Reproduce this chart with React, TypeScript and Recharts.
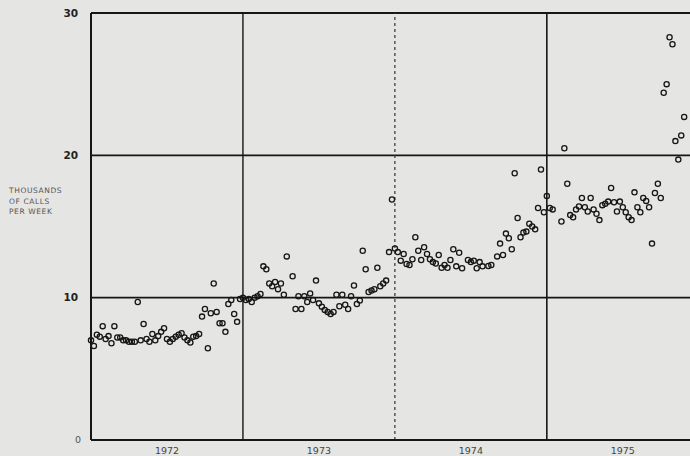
import React from 'react';
import { ReferenceLine, Scatter, ScatterChart, XAxis, YAxis } from 'recharts';

// weekly calls, thousands; null = no point visible that week
const calls1972 = [
  7.0, 6.6, 7.4, 7.26, 8.0, 7.1, 7.3, 6.8, 8.0, 7.2, 7.2, 7.0, 7.0, 6.9, 6.9, 6.9, 9.7, 7.0, 8.15, 7.1,
  6.9, 7.45, 7.0, 7.3, 7.6, 7.85, 7.1, 6.9, 7.1, 7.26, 7.4, 7.5, 7.2, 7.0, 6.85, 7.26, 7.3, 7.45, 8.67, 9.2,
  6.45, 8.9, 11.0, 9.0, 8.2, 8.2, 7.6, 9.55, 9.84, 8.85, 8.3, 9.9,
];
const calls1973 = [
  10.0, 9.84, 9.9, 9.7, 10.0, 10.1, 10.26, 12.2, 12.0, 11.0, 10.8, 11.1, 10.6, 11.0, 10.2, 12.9, null, 11.5, 9.2, 10.1,
  9.2, 10.1, 9.7, 10.3, 9.84, 11.2, 9.6, 9.37, 9.14, 9.0, 8.85, 9.0, 10.2, 9.4, 10.2, 9.5, 9.2, 10.1, 10.85, 9.55,
  9.8, 13.3, 12.0, 10.4, 10.5, 10.6, 12.1, 10.8, 11.0, 11.2, 13.2, 16.9,
];
const calls1974 = [
  13.45, 13.2, 12.6, 13.07, 12.37, 12.3, 12.7, 14.25, 13.3, 12.65, 13.54, 13.07, 12.7, 12.5, 12.4, 13.0, 12.1, 12.3, 12.1, 12.65,
  13.4, 12.2, 13.16, 12.07, null, 12.65, 12.5, 12.6, 12.07, 12.5, 12.2, null, 12.23, 12.3, null, 12.9, 13.8, 13.0, 14.5, 14.17,
  13.4, 18.74, 15.6, 14.25, 14.57, 14.64, 15.2, 15.0, 14.8, 16.3, 19.0, 16.0,
];
const calls1975 = [
  17.15, 16.3, 16.2, null, null, 15.35, 20.5, 18.0, 15.8, 15.65, 16.2, 16.4, 17.0, 16.35, 16.05, 17.0, 16.2, 15.9, 15.45, 16.5,
  16.6, 16.75, 17.7, 16.7, 16.05, 16.75, 16.35, 16.0, 15.65, 15.45, 17.4, 16.35, 16.0, 17.0, 16.8, 16.35, 13.8, 17.35, 18.0, 17.0,
  24.4, 25.0, 28.3, 27.8, 21.0, 19.7, 21.4, 22.7,
];

const years = ['1972', '1973', '1974', '1975'];
const yearTicks = [26, 78, 130, 182];
const yearBreaks = [52, 104, 156];
const yTicks = [0, 10, 20, 30];

const data = [...calls1972, ...calls1973, ...calls1974, ...calls1975]
  .map((v, i) => ({ week: i, calls: v }))
  .filter((d) => d.calls !== null);

const ink = '#161616';

const Ring = (props: any) => (
  <circle cx={props.cx} cy={props.cy} r={2.6} fill="none" stroke={ink} strokeWidth={1.3} />
);

const YTick = (props: any) => {
  const { x, y, payload } = props;
  const zero = payload.value === 0;
  return (
    <text
      x={zero ? x + 3 : x}
      y={y}
      dy="0.35em"
      textAnchor="end"
      fontSize={zero ? 9.5 : 10.5}
      fontWeight={zero ? 'normal' : 'bold'}
      fill={zero ? '#555' : '#222'}
      fontFamily="DejaVu Sans, sans-serif"
    >
      {payload.value}
    </text>
  );
};

export default function App() {
  return (
    <div style={{ position: 'absolute', left: 0, top: 0, width: 690, height: 456, background: '#e5e5e3', overflow: 'hidden' }}>
      <div
        style={{
          position: 'absolute',
          left: 9,
          top: 186,
          fontFamily: 'DejaVu Sans, sans-serif',
          fontSize: 7.5,
          lineHeight: '10.5px',
          letterSpacing: 0.6,
          color: '#555',
        }}
      >
        THOUSANDS
        <br />
        OF CALLS
        <br />
        PER WEEK
      </div>
      <ScatterChart width={690} height={456} margin={{ top: 13, right: 0, bottom: 0, left: 0 }}>
        <XAxis
          type="number"
          dataKey="week"
          domain={[0, 205]}
          ticks={yearTicks}
          tickFormatter={(v: number) => years[yearTicks.indexOf(v)]}
          height={16}
          tickLine={false}
          tickMargin={1}
          axisLine={{ stroke: ink, strokeWidth: 2 }}
          tick={{ fontSize: 9.5, fill: '#444', fontFamily: 'DejaVu Sans, sans-serif' }}
        />
        <YAxis
          type="number"
          dataKey="calls"
          domain={[0, 30]}
          ticks={yTicks}
          width={91}
          tickLine={false}
          tickMargin={7}
          axisLine={{ stroke: ink, strokeWidth: 2 }}
          tick={<YTick />}
        />
        <ReferenceLine y={10} stroke={ink} strokeWidth={1.6} />
        <ReferenceLine y={20} stroke={ink} strokeWidth={1.6} />
        <ReferenceLine y={30} stroke={ink} strokeWidth={2} />
        <ReferenceLine x={yearBreaks[0]} stroke={ink} strokeWidth={1.4} />
        <ReferenceLine x={yearBreaks[1]} stroke="#333" strokeWidth={1.2} strokeDasharray="3 3" />
        <ReferenceLine x={yearBreaks[2]} stroke={ink} strokeWidth={1.6} />
        <Scatter data={data} shape={Ring} isAnimationActive={false} />
      </ScatterChart>
    </div>
  );
}
